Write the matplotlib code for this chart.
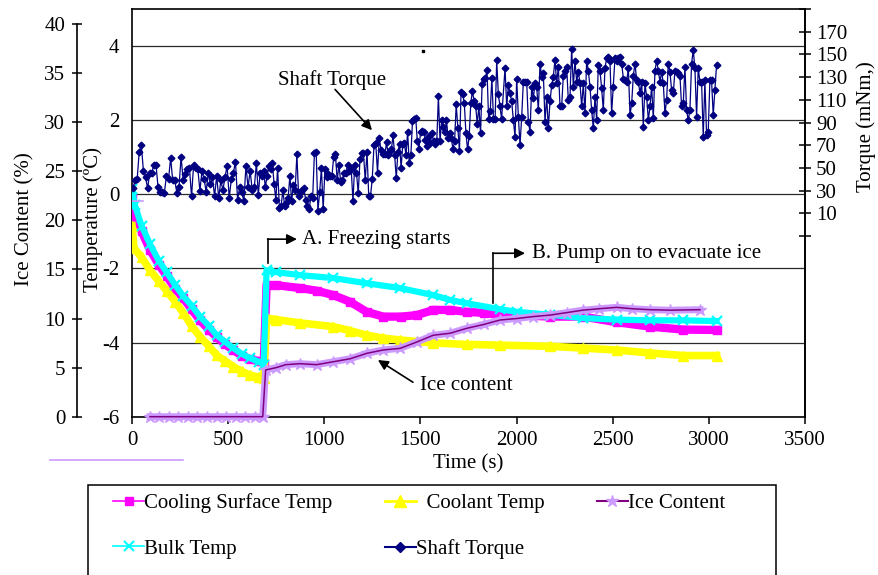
import numpy as np
import matplotlib
matplotlib.use('Agg')
import matplotlib.pyplot as plt
from matplotlib.lines import Line2D
from matplotlib.patches import Rectangle

plt.rcParams['font.family'] = ['Liberation Serif', 'DejaVu Serif']
plt.rcParams['font.size'] = 15
plt.rcParams['axes.unicode_minus'] = False

# ---------------- data ----------------
# Cooling surface temperature (degC)
cs_t = [0, 15, 50, 94, 140, 180, 225, 267, 310, 354, 400, 440, 485, 527, 570, 614, 660, 685,
        700, 750, 874, 960, 1047, 1134, 1220, 1307, 1400, 1480, 1567, 1654, 1740, 1830, 1914,
        2000, 2174, 2347, 2520, 2694, 2867, 3040]
cs_T = [-0.1, -0.6, -1.0, -1.5, -1.9, -2.2, -2.55, -2.8, -3.1, -3.4, -3.65, -3.85, -4.05, -4.2,
        -4.35, -4.45, -4.5, -4.55,
        -2.45, -2.45, -2.53, -2.6, -2.72, -2.9, -3.17, -3.3, -3.3, -3.26, -3.12, -3.12, -3.17,
        -3.2, -3.26, -3.26, -3.3, -3.3, -3.45, -3.57, -3.65, -3.66]

# Bulk temperature (degC)
bt_t = [0, 15, 50, 94, 140, 180, 225, 267, 310, 354, 400, 440, 485, 527, 570, 614, 660, 685,
        700, 750, 874, 1047, 1220, 1394, 1567, 1654, 1740, 1914, 2000, 2174, 2347, 2520, 2694,
        2867, 3040]
bt_T = [0.15, -0.3, -0.85, -1.35, -1.8, -2.1, -2.45, -2.75, -3.0, -3.3, -3.55, -3.8, -3.98,
        -4.15, -4.3, -4.42, -4.52, -4.6,
        -2.05, -2.1, -2.18, -2.26, -2.4, -2.53, -2.72, -2.85, -2.94, -3.1, -3.17, -3.25, -3.34,
        -3.38, -3.4, -3.4, -3.42]

# Coolant temperature (degC)
ct_t = [0, 10, 50, 94, 140, 180, 225, 267, 310, 354, 400, 440, 485, 527, 570, 614, 660, 685,
        700, 750, 874, 1047, 1134, 1220, 1307, 1394, 1567, 1740, 1914, 2174, 2347, 2520, 2694,
        2867, 3040]
ct_T = [-0.85, -1.45, -1.7, -2.05, -2.35, -2.6, -2.9, -3.2, -3.55, -3.84, -4.1, -4.34, -4.5,
        -4.65, -4.78, -4.88, -4.93, -4.96,
        -3.34, -3.38, -3.47, -3.57, -3.68, -3.8, -3.88, -3.93, -4.01, -4.05, -4.07, -4.1, -4.15,
        -4.2, -4.28, -4.35, -4.35]

# Ice content (%)
ice_t = [94, 140, 190, 240, 290, 340, 390, 440, 490, 540, 590, 640, 680,
         695, 750, 800, 874, 960, 1047, 1134, 1220, 1307, 1394, 1480, 1567, 1654, 1740, 1830,
         1914, 2000, 2087, 2174, 2260, 2347, 2430, 2520, 2600, 2694, 2800, 2954]
ice_v = [0, 0, 0, 0, 0, 0, 0, 0, 0, 0, 0, 0, 0,
         4.76, 5.0, 5.3, 5.4, 5.3, 5.6, 5.9, 6.45, 6.8, 6.96, 7.6, 8.3, 8.5, 9.0, 9.4,
         9.85, 10.0, 10.2, 10.35, 10.6, 10.86, 11.0, 11.14, 11.0, 10.9, 10.85, 10.9]

# Shaft torque (mNm), read in five consecutive time spans
torque_spans = [(5, 647), (657, 1295), (1307, 1922), (1940, 2529), (2538, 3040)]
torque_1 = [32, 39, 40, 64.5, 70, 47.5, 42, 32, 46, 46, 53, 53, 33, 29, 29, 28, 43, 40, 59, 39,
            39, 28, 33, 60, 39, 45, 49, 50, 25, 53, 50, 49, 30, 47.5, 40, 29, 46, 36, 42, 25,
            43, 23.5, 39, 30.5, 42, 52, 23.5, 40, 46, 55.5, 22, 33, 29, 20.5, 52, 33, 47.5,
            30.5, 33, 54.5]
torque_2 = [26, 46, 43, 47.5, 33, 43, 52, 49, 54, 36, 22, 50, 15, 16.4, 30.5, 16.4, 19, 23.5,
            43, 20.6, 35, 30.5, 62, 25, 29, 30.5, 32, 22, 16.4, 13.6, 25, 23.5, 63, 64.5, 12,
            29, 50, 13.6, 49, 42, 45, 43, 43, 60, 62, 39, 53, 37.6, 39, 46, 46, 53, 47.5, 49,
            20.6, 53, 46, 27.7, 57.5, 63, 63, 39, 64.5, 25, 25, 40.5, 70, 71.6, 46, 76, 66]
torque_3 = [62, 62, 73, 61, 65, 66.5, 79, 61, 41, 64, 71, 50, 71, 72, 61, 82, 54, 61, 91, 93,
            94, 73.5, 66.5, 82, 83, 82, 75, 69, 78, 72, 80.5, 73.5, 71, 73.5, 113, 73.5, 92, 86,
            82, 92, 76, 80.5, 76, 66.5, 73.5, 106, 85, 65, 117, 115, 107, 80.5, 66.5, 78, 107,
            118, 109, 104.5, 89, 104.5, 80.5, 124, 128, 129, 136, 93, 100, 129, 93, 93, 145,
            115, 104.5, 93]
torque_4 = [138, 104.2, 122.7, 115.6, 108.6, 92.2, 77.6, 128.8, 95.1, 70.4, 95.1, 126, 126, 126,
            90.8, 82, 121.6, 111.3, 124.5, 121.6, 100.9, 142, 130.4, 133.3, 90.8, 112.7, 84.9,
            108.6, 122.7, 130.4, 145.4, 124.5, 139.1, 104.2, 104.2, 131.4, 135.8, 139.1, 109.6,
            112.7, 155, 121.6, 144.5, 126, 134.7, 124.5, 104.2, 124.5, 98.1, 144.5, 135.8,
            121.6, 100.9, 84.9, 112.7, 92.2, 140.6, 135.8, 120.1, 100.9, 138, 146.5, 147.8,
            144.5, 98.1, 121.6, 146.5, 144.5, 146.5]
torque_5 = [147.8, 142, 128.8, 127.1, 126, 138, 96.6, 106.9, 131.4, 142, 127.1, 126, 115.6, 126,
            86.3, 124.5, 112.7, 92.2, 104.2, 121.6, 93.7, 135.8, 144.5, 135.8, 126, 134.7, 124.5,
            98.1, 109.6, 142, 134.7, 118.4, 115.6, 135.8, 134.7, 133.3, 131.4, 104.2, 106.9,
            139.1, 100.9, 92.2, 100.9, 142, 153.8, 138, 95.1, 138, 126, 126, 77.6, 127.1, 79.1,
            82, 127.1, 127.1, 96.6, 118.4, 140.6]
torque_parts = [torque_1, torque_2, torque_3, torque_4, torque_5]

temp_ticks = [-6, -4, -2, 0, 2, 4]
ice_ticks = list(range(0, 41, 5))
torque_ticks = list(range(-10, 191, 20))
torque_labels = ['' if v in (-10, 190) else str(v) for v in torque_ticks]
x_ticks = list(range(0, 3501, 500))

tq_t = np.concatenate([np.linspace(a, b, len(p)) for (a, b), p in zip(torque_spans, torque_parts)])
tq_v = np.concatenate([np.asarray(p, float) for p in torque_parts])

# ---------------- figure ----------------
W, H = 879, 575
fig = plt.figure(figsize=(W / 100, H / 100), dpi=100)
L, R, B, T = 132, 805, 416.7, 9
ax = fig.add_axes([L / W, 1 - B / H, (R - L) / W, (B - T) / H])
ax.set_xlim(0, 3500)
ax.set_ylim(-6, 5)
ax.set_xticks(x_ticks)
ax.set_yticks(temp_ticks)
ax.grid(axis='y', color='#2a2a2a', lw=0.9)
ax.set_axisbelow(True)
ax.tick_params(axis='y', length=0, pad=9)
ax.tick_params(axis='x', direction='out', length=5, width=1.1, pad=5)
ax.set_xlabel('Time (s)', labelpad=3)
for s in ax.spines.values():
    s.set_linewidth(1.2)

MAG, YEL, CYA, LAV, PUR, NAV = '#FF00FF', '#FFFF00', '#00FFFF', '#CC99FF', '#800080', '#000080'

ax.plot(cs_t, cs_T, color=MAG, lw=6, marker='s', ms=6, mec=MAG, zorder=3)
ax.plot(ct_t, ct_T, color=YEL, lw=5.5, marker='^', ms=7, mec=YEL, zorder=3)
ax.plot(bt_t, bt_T, color=CYA, lw=4.5, marker='x', ms=7, mew=1.6, zorder=3)

# annotations
arrow = dict(arrowstyle='-|>', color='black', lw=1.2, mutation_scale=15, shrinkA=0, shrinkB=0)
ax.text(1040, 3.07, 'Shaft Torque', ha='center', va='center')
ax.annotate('', xy=(1248, 1.73), xytext=(1056, 2.83), arrowprops=arrow)
ax.plot([705, 705], [-1.85, -1.21], color='black', lw=1.2)
ax.annotate('', xy=(858, -1.21), xytext=(705, -1.21), arrowprops=arrow)
ax.text(884, -1.21, 'A. Freezing starts', va='center')
ax.plot([1877, 1877], [-2.94, -1.59], color='black', lw=1.2, zorder=6)
ax.annotate('', xy=(2044, -1.59), xytext=(1877, -1.59), arrowprops=arrow)
ax.text(2080, -1.59, 'B. Pump on to evacuate ice', va='center')
ax.annotate('', xy=(1279, -4.47), xytext=(1461, -5.07), arrowprops=arrow)
ax.text(1498, -5.17, 'Ice content', va='center')
ax.plot([1513], [3.88], marker='s', ms=1.5, color='black')

# ice content axis
axi = ax.twinx()
axi.set_ylim(0, 41.53)
axi.yaxis.tick_left()
axi.spines['left'].set_position(('axes', -55 / 673))
axi.spines['left'].set_visible(True)
axi.spines['left'].set_bounds(0, 40)
axi.spines['left'].set_linewidth(1.2)
for s in ['right', 'top', 'bottom']:
    axi.spines[s].set_visible(False)
axi.set_yticks(ice_ticks)
axi.tick_params(axis='y', direction='inout', length=7, width=1.1, pad=5)
axi.plot(ice_t, ice_v, color=LAV, lw=5, marker='*', ms=9, mec=LAV, clip_on=False, zorder=3)
axi.plot(ice_t, ice_v, color=PUR, lw=1.1, clip_on=False, zorder=4)

# torque axis
axt = ax.twinx()
axt.set_ylim(-169, 190)
axt.set_yticks(torque_ticks)
axt.set_yticklabels(torque_labels)
axt.tick_params(axis='y', direction='inout', length=8, width=1.1, pad=4)
for s in ['left', 'top', 'bottom']:
    axt.spines[s].set_visible(False)
axt.spines['right'].set_linewidth(1.2)
axt.plot(tq_t, tq_v, color=NAV, lw=0.9, marker='D', ms=3.4, mec=NAV, zorder=3)

# axis titles
fig.text(25 / W, 1 - 219 / H, 'Ice Content (%)', rotation=90, ha='center', va='center')
fig.text(93 / W, 1 - 220 / H, 'Temperature (ºC)', rotation=90, ha='center', va='center')
fig.text(866 / W, 1 - 192 / H, 'Torque (mNm,)', rotation=90, ha='left', va='center',
         rotation_mode='anchor')

# stray lavender lines present in the original
fig.add_artist(Line2D([50 / W, 183 / W], [1 - 460 / H] * 2, color=LAV, lw=1.2))
fig.add_artist(Line2D([133 / W, 143 / W], [1 - 201 / H] * 2, color=LAV, lw=1.2))

# legend
fig.add_artist(Rectangle((88 / W, -0.1), (776 - 88) / W, 0.1 + 1 - 485 / H,
                         transform=fig.transFigure, fill=False, ec='black', lw=1.1))
handles = [
    Line2D([], [], color=MAG, lw=1.2, marker='s', ms=6, mec=MAG),
    Line2D([], [], color=CYA, lw=1.2, marker='x', ms=7, mew=1.5),
    Line2D([], [], color=YEL, lw=2, marker='^', ms=8, mec=YEL),
    Line2D([], [], color=NAV, lw=1.5, marker='D', ms=5, mec=NAV),
    Line2D([], [], color=PUR, lw=1.5, marker='*', ms=9, mfc=LAV, mec=LAV),
]
labels = ['Cooling Surface Temp', 'Bulk Temp', '  Coolant Temp', 'Shaft Torque', 'Ice Content']
fig.legend(handles, labels, ncol=3, loc='upper left', bbox_to_anchor=(113 / W, 1 - 493 / H),
           frameon=False, handlelength=1.5, handletextpad=0.0, columnspacing=2.5,
           labelspacing=1.25, borderpad=0, borderaxespad=0)

fig.savefig('out.png', dpi=100)
